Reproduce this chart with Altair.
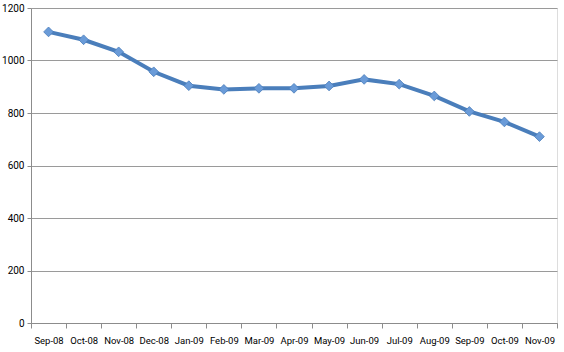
import altair as alt
import pandas as pd

months = ["Sep-08", "Oct-08", "Nov-08", "Dec-08", "Jan-09", "Feb-09", "Mar-09",
          "Apr-09", "May-09", "Jun-09", "Jul-09", "Aug-09", "Sep-09", "Oct-09", "Nov-09"]
values = [1109, 1079, 1033, 957, 904, 890, 894, 894, 903, 928, 910, 865, 806, 766, 710]

df = pd.DataFrame({"month": months, "value": values})

W, H = 526, 315
FONT = "Roboto"

x = alt.X("month:N", sort=months, title=None,
          scale=alt.Scale(paddingInner=0, paddingOuter=0),
          axis=alt.Axis(tickBand="extent", labelAngle=0,
                        tickSize=5, tickColor="#8c8c8c", domainColor="#8c8c8c",
                        labelPadding=7, labelFontSize=9.5, labelFont=FONT,
                        labelColor="#000000", grid=False))
y = alt.Y("value:Q", title=None,
          scale=alt.Scale(domain=[0, 1200], nice=False),
          axis=alt.Axis(values=[0, 200, 400, 600, 800, 1000, 1200], format="d",
                        tickSize=4, tickColor="#8c8c8c", domainColor="#8c8c8c",
                        gridColor="#9a9a9a", labelPadding=3, labelFontSize=10,
                        labelFont=FONT, labelColor="#000000"))

line = alt.Chart(df).mark_line(color="#4a7ebb", strokeWidth=4).encode(x=x, y=y)
points = alt.Chart(df).mark_point(shape="diamond", filled=True, size=95,
                                  color="#6a9bd8", opacity=1,
                                  stroke="#4a7ebb", strokeWidth=0.8).encode(x=x, y=y)

chart = alt.layer(line, points).properties(
    width=W, height=H,
    autosize=alt.AutoSizeParams(type="none"),
    padding={"left": 31, "top": 8, "right": 7, "bottom": 29},
).configure_view(stroke=None).configure(background="white")

chart.save("out.html", embed_options={"renderer": "svg", "actions": False})
